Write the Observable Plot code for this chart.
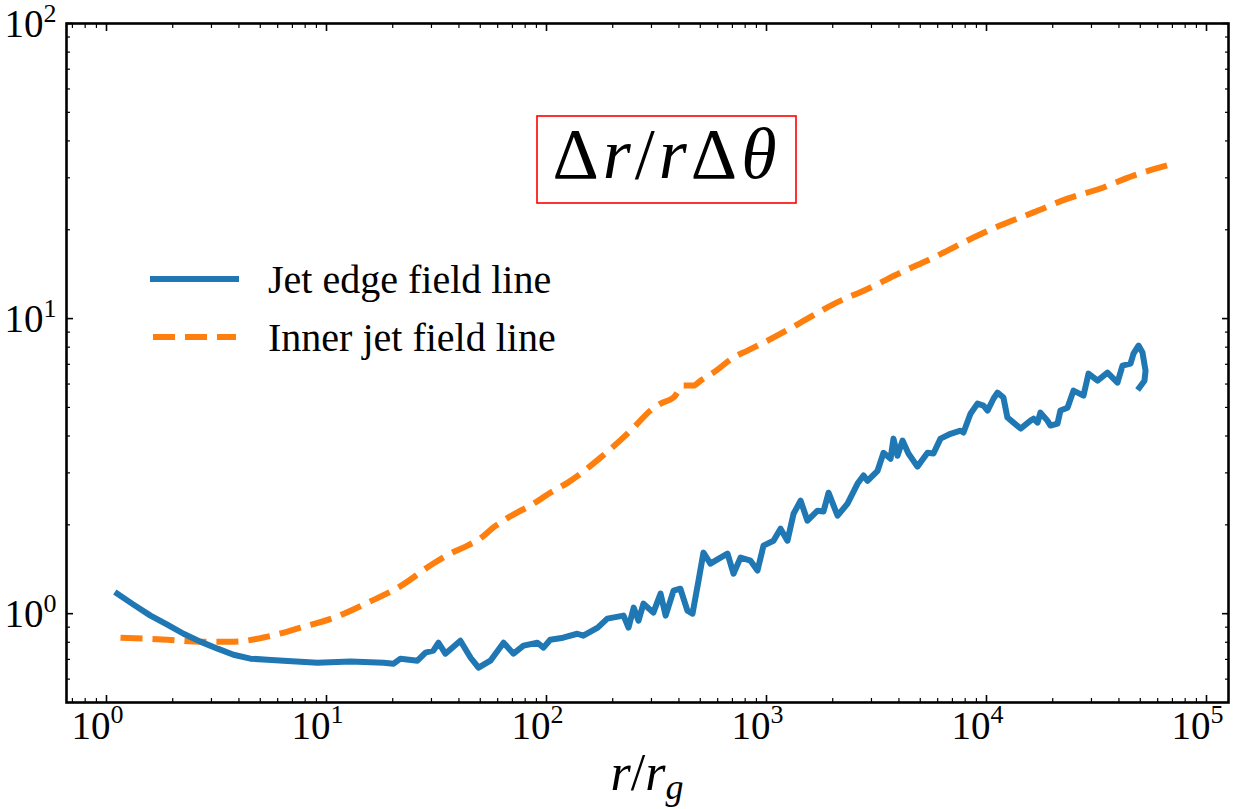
<!DOCTYPE html>
<html>
<head>
<meta charset="utf-8">
<script src="https://cdn.jsdelivr.net/npm/d3@7"></script>
<script src="https://cdn.jsdelivr.net/npm/@observablehq/plot@0.6"></script>
<style>
  body { margin: 0; background: #fff; }
  #chart svg { display: block; }
</style>
</head>
<body>
<div id="chart"></div>
<script>
// Jet edge field line: radius (r/r_g) and cell aspect ratio Δr/(rΔθ)
const edgeR = [1.12, 1.327, 1.585, 1.89, 2.24, 2.67, 3.2, 3.78, 4.51, 5.39, 6.37, 9.1, 12.85, 18.2, 20.2,
  21.7, 25.9, 28.2, 30.6, 32.3, 34.7, 40.6, 45.2, 49.1, 55.6,
  63.8, 70.8, 78.6, 91.0, 96.9, 104, 119, 138, 147, 171,
  189, 224, 236, 249, 262, 276, 306, 330, 348, 378,
  406, 437, 461, 491, 517, 556, 618, 665, 708, 762,
  846, 910, 969, 1076, 1158, 1245, 1327, 1429, 1535, 1706,
  1816, 1914, 2104, 2335, 2594, 2761, 2877, 3198, 3404, 3664,
  3777, 3939, 4152, 4418, 4853, 5395, 5741, 6180, 6859, 7619,
  7860, 8456, 9100, 9686, 10110, 10770, 11220, 11940, 12450, 13270,
  14290, 15850, 16360, 17060, 17580, 18920, 19540, 21030, 21680, 23350,
  24850, 27600, 29090, 31970, 35480, 39380, 41520, 45150, 46580, 49090,
  51170, 52840, 52250, 49550];
const edgeRatio = [1.169, 1.073, 0.985, 0.918, 0.855, 0.804, 0.761, 0.726, 0.704, 0.698, 0.693, 0.682, 0.688, 0.682, 0.677,
  0.704, 0.693, 0.738, 0.749, 0.797, 0.732, 0.810, 0.709, 0.656, 0.693,
  0.797, 0.732, 0.779, 0.797, 0.767, 0.816, 0.829, 0.855, 0.842, 0.897,
  0.962, 0.985, 0.897, 1.048, 0.947, 1.081, 1.008, 1.169, 0.985, 1.197,
  1.215, 1.024, 1.0, 1.294, 1.61, 1.477, 1.549, 1.597, 1.366, 1.549,
  1.512, 1.399, 1.70, 1.767, 1.941, 1.767, 2.18, 2.415, 2.066, 2.234,
  2.22, 2.57, 2.148, 2.36, 2.76, 2.94, 2.82, 3.05, 3.51, 3.35,
  3.92, 3.43, 3.86, 3.49, 3.15, 3.51, 3.49, 3.92, 4.07, 4.17,
  4.11, 4.76, 5.15, 5.07, 4.88, 5.36, 5.61, 5.40, 4.62, 4.44,
  4.24, 4.51, 4.58, 4.44, 4.80, 4.51, 4.34, 4.41, 4.88, 4.99,
  5.70, 5.48, 6.51, 6.16, 6.56, 6.07, 6.93, 7.04, 7.61, 8.10,
  7.67, 6.66, 6.16, 5.84];

// Inner jet field line
const innerR = [1.158, 1.89, 2.67, 3.78, 5.39, 7.62, 10.8, 15.4, 21.7, 30.6,
  36.6, 43.7, 50.1, 57.4, 66.5, 87.3, 104, 125, 176, 249,
  297, 330, 378, 420, 466, 501, 574, 708, 820, 1011,
  1429, 2018, 2877, 4064, 5741, 8200, 11580, 16360, 23350, 32970,
  46580, 70790];
const innerRatio = [0.829, 0.816, 0.804, 0.804, 0.836, 0.897, 0.969, 1.09, 1.24, 1.48,
  1.60, 1.70, 1.80, 1.96, 2.11, 2.36, 2.57, 2.78, 3.38, 4.27,
  4.88, 5.15, 5.40, 5.93, 5.93, 6.16, 6.56, 7.38, 7.79, 8.42,
  9.69, 11.2, 12.6, 14.3, 16.1, 18.4, 20.7, 22.9, 25.5, 27.6,
  30.5, 33.5];

// Axis ticks
const xMajorTicks = [1, 10, 100, 1000, 10000, 100000];
const xExponents = ["0", "1", "2", "3", "4", "5"];
const xMinorTicks = [0.7, 0.8, 0.9,
  2, 3, 4, 5, 6, 7, 8, 9,
  20, 30, 40, 50, 60, 70, 80, 90,
  200, 300, 400, 500, 600, 700, 800, 900,
  2000, 3000, 4000, 5000, 6000, 7000, 8000, 9000,
  20000, 30000, 40000, 50000, 60000, 70000, 80000, 90000];
const yMajorTicks = [1, 10, 100];
const yExponents = ["0", "1", "2"];
const yMinorTicks = [0.6, 0.7, 0.8, 0.9, 2, 3, 4, 5, 6, 7, 8, 9, 20, 30, 40, 50, 60, 70, 80, 90];

const seriesLabels = ["Jet edge field line", "Inner jet field line"];
const seriesColors = ["#1f77b4", "#ff7f0e"];
const dashPattern = "22,10";
const lineWidth = 6;

const serif = "'Liberation Serif', 'DejaVu Serif', serif";

const edge = edgeR.map((r, i) => ({r, v: edgeRatio[i]}));
const inner = innerR.map((r, i) => ({r, v: innerRatio[i]}));
const xMajor = xMajorTicks.map((t, i) => ({t, e: xExponents[i]}));
const yMajor = yMajorTicks.map((t, i) => ({t, e: yExponents[i]}));

// Legend drawn inside the frame, upper left
function legend(index, scales, values, dims) {
  const g = d3.create("svg:g");
  const x0 = dims.marginLeft + 84, y0 = dims.marginTop + 256, rowGap = 58;
  seriesLabels.forEach((label, i) => {
    const y = y0 + i * rowGap;
    g.append("line")
      .attr("x1", x0 + (i ? 3 : 0)).attr("x2", x0 + 89 - (i ? 3 : 0))
      .attr("y1", y).attr("y2", y)
      .attr("stroke", seriesColors[i])
      .attr("stroke-width", lineWidth)
      .attr("stroke-dasharray", i ? dashPattern : null);
    g.append("text")
      .attr("x", x0 + 118).attr("y", y + 14)
      .attr("text-anchor", "start")
      .attr("font-family", serif).attr("font-size", 40)
      .attr("fill", "#000")
      .text(label);
  });
  return g.node();
}

// Boxed quantity label Δr/rΔθ
function quantityLabel(index, scales, values, dims) {
  const g = d3.create("svg:g");
  const left = dims.marginLeft + 471, top = dims.marginTop + 93;
  const w = 259, h = 87;
  g.append("rect")
    .attr("x", left).attr("y", top).attr("width", w).attr("height", h)
    .attr("fill", "white").attr("stroke", "red").attr("stroke-width", 1.6);
  const t = g.append("text")
    .attr("x", left + w / 2).attr("y", top + 62)
    .attr("text-anchor", "middle")
    .attr("font-family", serif).attr("font-size", 72)
    .attr("letter-spacing", 4)
    .attr("fill", "#000");
  [["Δ", "normal"], ["r", "italic"], ["/", "normal"], ["r", "italic"], ["Δ", "normal"], ["θ", "italic"]]
    .forEach(([s, style]) => t.append("tspan").attr("font-style", style).text(s));
  return g.node();
}

// x axis title r/r_g
function xTitle(index, scales, values, dims) {
  const g = d3.create("svg:g");
  const cx = dims.marginLeft + (dims.width - dims.marginLeft - dims.marginRight) / 2;
  const t = g.append("text")
    .attr("x", cx).attr("y", dims.height - dims.marginBottom + 88)
    .attr("text-anchor", "middle")
    .attr("font-family", serif).attr("font-size", 52)
    .attr("fill", "#000");
  t.append("tspan").attr("font-style", "italic").text("r");
  t.append("tspan").text("/");
  t.append("tspan").attr("font-style", "italic").text("r");
  t.append("tspan").attr("font-style", "italic").attr("font-size", 36).attr("dy", 9).text("g");
  return g.node();
}

const tickStyle = {fill: "none", label: null, stroke: "#000"};
const labelStyle = {fontFamily: serif, fill: "#000", lineAnchor: "bottom"};

const chart = Plot.plot({
  width: 1235,
  height: 809,
  marginLeft: 66,
  marginRight: 7,
  marginTop: 23,
  marginBottom: 107,
  style: {background: "#fff", fontFamily: serif, overflow: "visible"},
  x: {type: "log", domain: [0.658, 125900], axis: null},
  y: {type: "log", domain: [0.5, 100], axis: null},
  marks: [
    Plot.line(inner, {x: "r", y: "v", stroke: seriesColors[1], strokeWidth: lineWidth,
      strokeDasharray: dashPattern, curve: "monotone-x", strokeLinecap: "butt"}),
    Plot.line(edge, {x: "r", y: "v", stroke: seriesColors[0], strokeWidth: lineWidth,
      strokeLinejoin: "round", strokeLinecap: "square"}),
    // inward ticks on all four sides
    Plot.axisX(xMajorTicks, {anchor: "bottom", tickSize: -7, strokeWidth: 1.6, ...tickStyle}),
    Plot.axisX(xMajorTicks, {anchor: "top", tickSize: -7, strokeWidth: 1.6, ...tickStyle}),
    Plot.axisX(xMinorTicks, {anchor: "bottom", tickSize: -4, strokeWidth: 1.2, ...tickStyle}),
    Plot.axisX(xMinorTicks, {anchor: "top", tickSize: -4, strokeWidth: 1.2, ...tickStyle}),
    Plot.axisY(yMajorTicks, {anchor: "left", tickSize: -7, strokeWidth: 1.6, ...tickStyle}),
    Plot.axisY(yMajorTicks, {anchor: "right", tickSize: -7, strokeWidth: 1.6, ...tickStyle}),
    Plot.axisY(yMinorTicks, {anchor: "left", tickSize: -4, strokeWidth: 1.2, ...tickStyle}),
    Plot.axisY(yMinorTicks, {anchor: "right", tickSize: -4, strokeWidth: 1.2, ...tickStyle}),
    // power-of-ten tick labels: mantissa "10" plus raised exponent
    Plot.text(xMajor, {x: "t", frameAnchor: "bottom", text: () => "10", textAnchor: "end",
      dx: 4, dy: 36, fontSize: 39, ...labelStyle}),
    Plot.text(xMajor, {x: "t", frameAnchor: "bottom", text: "e", textAnchor: "start",
      dx: 4, dy: 20, fontSize: 26, ...labelStyle}),
    Plot.text(yMajor, {y: "t", frameAnchor: "left", text: () => "10", textAnchor: "end",
      dx: -23, dy: 13, fontSize: 39, ...labelStyle}),
    Plot.text(yMajor, {y: "t", frameAnchor: "left", text: "e", textAnchor: "start",
      dx: -23, dy: -2, fontSize: 26, ...labelStyle}),
    Plot.frame({stroke: "#000", strokeWidth: 2.6}),
    quantityLabel,
    legend,
    xTitle
  ]
});

document.getElementById("chart").append(chart);
</script>
</body>
</html>
